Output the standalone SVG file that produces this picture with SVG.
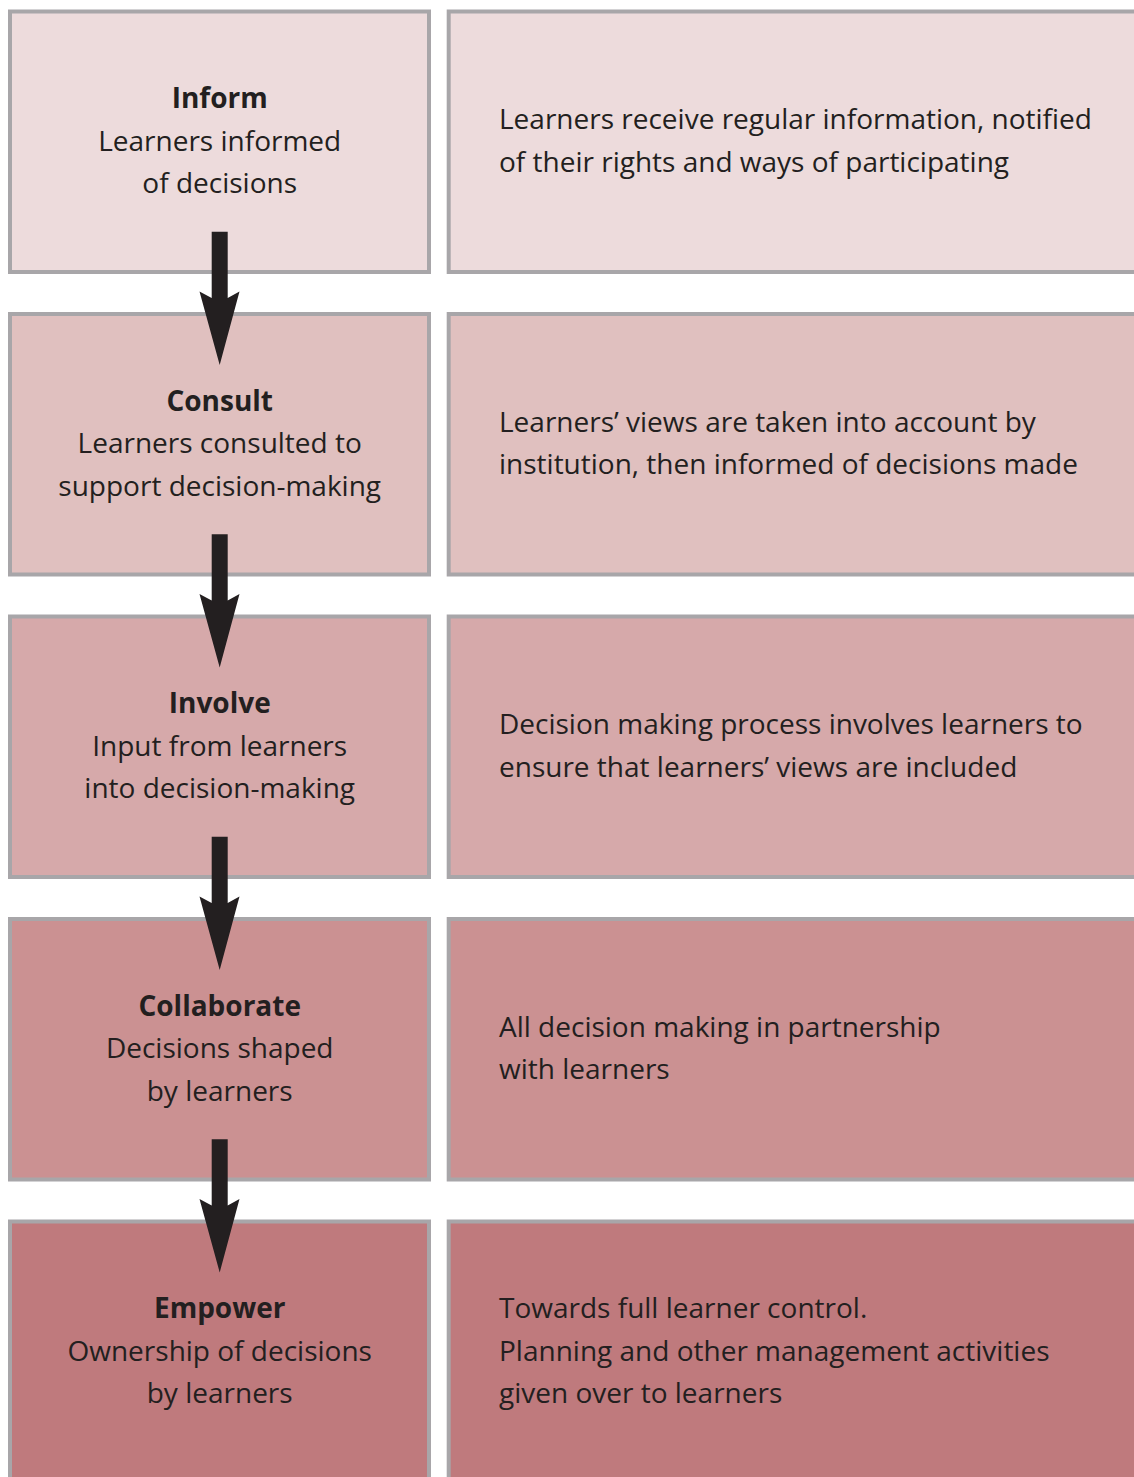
<svg xmlns="http://www.w3.org/2000/svg" width="1134" height="1477" viewBox="0 0 1134 1477">
<style>
.box{stroke:#a8a6a9;stroke-width:4}
.r1{fill:#eddbdc}.r2{fill:#e0c0bf}.r3{fill:#d6a9aa}.r4{fill:#cb9192}.r5{fill:#bf7a7d}
text{font-family:"Open Sans","Noto Sans",sans-serif;font-size:28px;fill:#231f20}
.t{font-weight:bold;text-anchor:middle}
.c{text-anchor:middle}
.arrow{fill:#231f20}
</style>
<rect width="1134" height="1477" fill="#ffffff"/>
<g id="inform">
<rect class="box r1" x="10" y="11.5" width="419" height="260.5"/>
<text class="t" x="219.7" y="108.3">Inform</text>
<text class="c" x="219.7" y="150.8">Learners informed</text>
<text class="c" x="219.7" y="193.3">of decisions</text>
</g>
<g id="inform-desc">
<rect class="box r1" x="448.7" y="11.5" width="700" height="260.5"/>
<text x="499" y="129.3">Learners receive regular information, notified</text>
<text x="499" y="171.8">of their rights and ways of participating</text>
</g>
<g id="consult">
<rect class="box r2" x="10" y="314" width="419" height="260.5"/>
<text class="t" x="219.7" y="410.8">Consult</text>
<text class="c" x="219.7" y="453.3">Learners consulted to</text>
<text class="c" x="219.7" y="495.8">support decision-making</text>
</g>
<g id="consult-desc">
<rect class="box r2" x="448.7" y="314" width="700" height="260.5"/>
<text x="499" y="431.8">Learners’ views are taken into account by</text>
<text x="499" y="474.3">institution, then informed of decisions made</text>
</g>
<g id="involve">
<rect class="box r3" x="10" y="616.5" width="419" height="260.5"/>
<text class="t" x="219.7" y="713.3">Involve</text>
<text class="c" x="219.7" y="755.8">Input from learners</text>
<text class="c" x="219.7" y="798.3">into decision-making</text>
</g>
<g id="involve-desc">
<rect class="box r3" x="448.7" y="616.5" width="700" height="260.5"/>
<text x="499" y="734.3">Decision making process involves learners to</text>
<text x="499" y="776.8">ensure that learners’ views are included</text>
</g>
<g id="collaborate">
<rect class="box r4" x="10" y="919" width="419" height="260.5"/>
<text class="t" x="219.7" y="1015.8">Collaborate</text>
<text class="c" x="219.7" y="1058.3">Decisions shaped</text>
<text class="c" x="219.7" y="1100.8">by learners</text>
</g>
<g id="collaborate-desc">
<rect class="box r4" x="448.7" y="919" width="700" height="260.5"/>
<text x="499" y="1036.8">All decision making in partnership</text>
<text x="499" y="1079.3">with learners</text>
</g>
<g id="empower">
<rect class="box r5" x="10" y="1221.5" width="419" height="280"/>
<text class="t" x="219.7" y="1318.3">Empower</text>
<text class="c" x="219.7" y="1360.8">Ownership of decisions</text>
<text class="c" x="219.7" y="1403.3">by learners</text>
</g>
<g id="empower-desc">
<rect class="box r5" x="448.7" y="1221.5" width="700" height="280"/>
<text x="499" y="1318.3">Towards full learner control.</text>
<text x="499" y="1360.8">Planning and other management activities</text>
<text x="499" y="1403.3">given over to learners</text>
</g>
<g id="connectors">
<defs>
<path id="arr" class="arrow" d="M211.7,231.7 L227.7,231.7 L227.7,298 L239.5,291.5 L219.7,365 L199.5,291.5 L211.7,298 Z"/>
</defs>
<use href="#arr"/>
<use href="#arr" transform="translate(0,302.5)"/>
<use href="#arr" transform="translate(0,605)"/>
<use href="#arr" transform="translate(0,907.5)"/>
</g>
</svg>
